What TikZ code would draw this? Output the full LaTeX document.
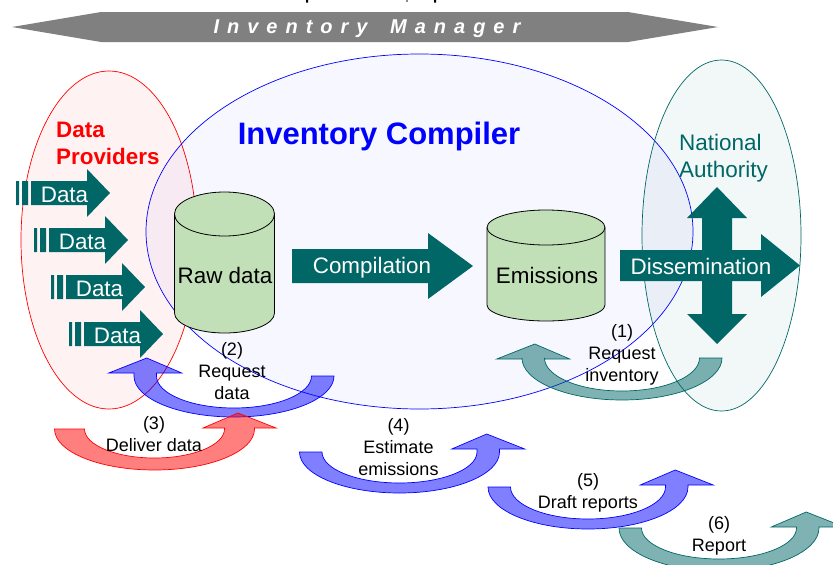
\documentclass[tikz,border=0pt]{standalone}
\usepackage{fontspec}
\setmainfont{Liberation Sans}
\newfontfamily\spaced[LetterSpace=40]{Liberation Sans}
\definecolor{tealD}{HTML}{006666}
\definecolor{cyl}{HTML}{C2E0B8}
\definecolor{blueA}{HTML}{0000FF}
\tikzset{
  x=1pt,y=-1pt,
  lab/.style={align=center,font=\fontsize{18}{22}\selectfont,text=black,inner sep=0pt},
  wh/.style={text=white,inner sep=0pt,font=\fontsize{22.4}{26}\selectfont},
  oval/.style={line width=.7pt,fill opacity=.05},
}
% #1 cx, #2 y tail, #3 y head base, #4 dir (1 head right, -1 head left), #5 colour, #6 inner rx, #7 inner ry, #8 outer ry
\newcommand{\uarrow}[8]{%
 \begin{scope}[shift={(#1,#2)},xscale=#4]
 \pgfmathsetmacro{\hc}{(100+#6)/2}
 \pgfmathsetmacro{\hb}{#3-#2}
 \path[fill=#5,fill opacity=.5,draw=#5,line width=.7pt]
   (-100,0) arc[start angle=180,end angle=360,x radius=100,y radius=-#8]
   -- (100,\hb) -- (\hc+36.5,\hb) -- (\hc-1.5,\hb-15) -- (\hc-36.5,\hb) -- (#6,\hb)
   -- (#6,0) arc[start angle=360,end angle=180,x radius=#6,y radius=-#7]
   -- cycle;
 \end{scope}}
\begin{document}
\begin{tikzpicture}
\useasboundingbox (0,0) rectangle (833,565);
\clip (0,0) rectangle (833,565);
% clipped edge of a line above the picture
\fill[black] (306,0) rectangle (308,2.5) (434,0) rectangle (436,2.5);
\fill[black!45] (406,0) rectangle (407.5,1.5);
% banner
\fill[black!50] (12,27) -- (101,12) -- (628,12) -- (718,27) -- (628,42) -- (101,42) -- cycle;
\node[inner sep=0pt,text=white,font=\spaced\bfseries\itshape\fontsize{20}{22}\selectfont] (mgr) at (367,28.5) {Inventory\hspace{9pt} Manager};
% ovals
\path[oval,fill=red,draw=red] (109,240) ellipse[x radius=88,y radius=169];
\path[oval,fill=blueA,draw=blueA,fill opacity=.03] (419.5,231.5) ellipse[x radius=273.5,y radius=177.5];
\path[oval,fill=tealD,draw=tealD] (721.5,235.5) ellipse[x radius=79.5,y radius=175.5];
\node[font=\bfseries\fontsize{22.4}{27}\selectfont,text=red,align=left,inner sep=0pt,anchor=west] (prov) at (56,143) {Data\\Providers};
\node[font=\bfseries\fontsize{31}{34}\selectfont,text=blueA,inner sep=0pt] (comp) at (379,136) {Inventory Compiler};
\node[font=\fontsize{22.5}{27}\selectfont,text=tealD,align=left,inner sep=0pt,anchor=west] (auth) at (679,158) {National\\Authority};
% data arrows
\foreach \i/\dx/\yy in {1/0/193,2/18/240,3/35/287,4/53/334}{
  \begin{scope}[shift={(\dx,\yy)}]
  \fill[tealD] (16,-12) rectangle (19,12) (22,-12) rectangle (28,12);
  \fill[tealD] (31,-12) -- (87,-12) -- (87,-24) -- (110,0) -- (87,24) -- (87,12) -- (31,12) -- cycle;
  \node[wh] (data\i) at (64.5,2) {Data};
  \end{scope}}
% cylinders
\path[fill=cyl,draw=black,line width=.8pt] (174.5,214) -- (174.5,313) arc[start angle=180,end angle=360,x radius=50,y radius=-20] -- (274.5,214) arc[start angle=0,end angle=180,x radius=50,y radius=-22] -- cycle;
\draw[line width=.8pt] (174.5,214) arc[start angle=180,end angle=360,x radius=50,y radius=-22];
\path[fill=cyl,draw=black,line width=.8pt] (487,227.5) -- (487,305) arc[start angle=180,end angle=360,x radius=59,y radius=-16] -- (605,227.5) arc[start angle=0,end angle=180,x radius=59,y radius=-17.5] -- cycle;
\draw[line width=.8pt] (487,227.5) arc[start angle=180,end angle=360,x radius=59,y radius=-17.5];
\node[font=\fontsize{22.4}{26}\selectfont,inner sep=0pt] (rawl) at (225,275) {Raw data};
\node[font=\fontsize{22.4}{26}\selectfont,inner sep=0pt] (eml) at (547,275) {Emissions};
% compilation
\fill[tealD] (292,249) -- (428,249) -- (428,233) -- (473,266) -- (428,299) -- (428,283) -- (292,283) -- cycle;
\node[wh] (compl) at (372,268) {Compilation};
% dissemination
\fill[tealD] (620,250) -- (702,250) -- (702,218) -- (687,218) -- (717,187) -- (747,218) -- (732,218) -- (732,250) -- (761,250) -- (761,234) -- (800,265.5) -- (761,297) -- (761,281) -- (732,281) -- (732,314) -- (747,314) -- (717,344) -- (687,314) -- (702,314) -- (702,281) -- (620,281) -- cycle;
\node[wh] (diss) at (701,266) {Dissemination};
% curved arrows
\uarrow{234}{376}{373}{-1}{blueA}{77.5}{32}{41}
\uarrow{154.5}{429}{428}{1}{red}{70}{29}{41}
\uarrow{622}{358}{359}{-1}{tealD}{77.5}{33}{42}
\uarrow{399.5}{452}{449}{1}{blueA}{77.5}{31}{41}
\uarrow{588}{487}{485}{1}{blueA}{77.5}{32}{42}
\uarrow{719}{528}{527}{1}{tealD}{77.5}{31}{43}
% labels
\node[lab] (l2) at (232,371) {(2)\\Request\\data};
\node[lab] (l3) at (154,434) {(3)\\Deliver data};
\node[lab] (l1) at (622,355) {(1)\\Request\\inventory};
\node[lab] (l4) at (398.5,447) {(4)\\Estimate\\emissions};
\node[lab] (l5) at (588,493) {(5)\\Draft reports};
\node[lab] (l6) at (719,536) {(6)\\Report};
\end{tikzpicture}
\end{document}
